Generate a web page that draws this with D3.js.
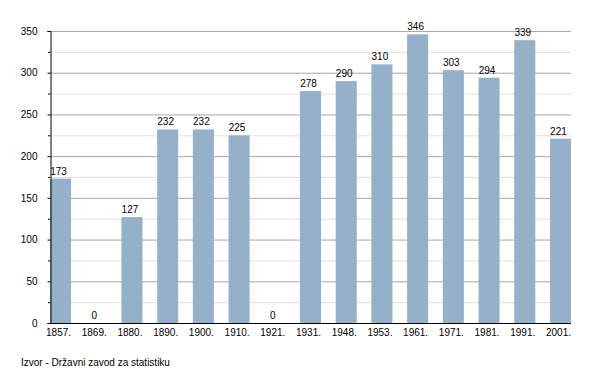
<!DOCTYPE html>
<html>
<head>
<meta charset="utf-8">
<script src="https://cdn.jsdelivr.net/npm/d3@7"></script>
<style>
  body { margin: 0; background: #fff; }
  text { font-family: "Liberation Sans", Arial, sans-serif; font-size: 10px; fill: #000; }
</style>
</head>
<body>
<svg id="chart" width="600" height="373"></svg>
<script>
// census years and population counts
const years = ["1857.", "1869.", "1880.", "1890.", "1900.", "1910.", "1921.", "1931.", "1948.", "1953.", "1961.", "1971.", "1981.", "1991.", "2001."];
const population = [173, 0, 127, 232, 232, 225, 0, 278, 290, 310, 346, 303, 294, 339, 221];
const majorTicks = [0, 50, 100, 150, 200, 250, 300, 350];
const minorTicks = [25, 75, 125, 175, 225, 275, 325];
const source = "Izvor -  Državni zavod za statistiku";

const plotLeft = 50, plotRight = 571, plotTop = 31, plotBottom = 323;
const svg = d3.select("#chart");

let x = d3.scaleBand()
  .domain(years)
  .range([plotLeft, plotRight])
  .paddingInner(0.41)
  .paddingOuter(0);

let y = d3.scaleLinear()
  .domain([0, 350])
  .range([plotBottom, plotTop]);

// minor gridlines
svg.append("g").selectAll("line")
  .data(minorTicks).enter().append("line")
  .attr("x1", plotLeft).attr("x2", plotRight)
  .attr("y1", d => y(d) + 0.5).attr("y2", d => y(d) + 0.5)
  .attr("stroke", "#e0e0e0");

// major gridlines
svg.append("g").selectAll("line")
  .data(majorTicks.filter(d => d > 0)).enter().append("line")
  .attr("x1", plotLeft).attr("x2", plotRight)
  .attr("y1", d => y(d) + 0.5).attr("y2", d => y(d) + 0.5)
  .attr("stroke", "#a8a8a8");

// bars
svg.append("g").selectAll("rect")
  .data(population).enter().append("rect")
  .attr("x", (d, i) => x(years[i]))
  .attr("y", d => y(d))
  .attr("width", x.bandwidth())
  .attr("height", d => plotBottom - y(d))
  .attr("fill", "#97b0ca");

// value labels
svg.append("g").selectAll("text")
  .data(population).enter().append("text")
  .attr("x", (d, i) => x(years[i]) + x.bandwidth() / 2 - 2)
  .attr("y", d => y(d) - 4)
  .attr("text-anchor", "middle")
  .text(d => d);

// y axis
let yAxis = svg.append("g")
  .attr("transform", `translate(${plotLeft + 0.5},0)`)
  .call(d3.axisLeft(y).tickValues(majorTicks).tickSize(3).tickPadding(10));
yAxis.select(".domain").attr("stroke", "#000");
yAxis.selectAll("text").style("font-size", "10px").style("font-family", "Liberation Sans, Arial, sans-serif");

svg.append("g").selectAll("line")
  .data(minorTicks).enter().append("line")
  .attr("x1", plotLeft - 2).attr("x2", plotLeft)
  .attr("y1", d => y(d) + 0.5).attr("y2", d => y(d) + 0.5)
  .attr("stroke", "#000");

// x axis
let xAxis = svg.append("g")
  .attr("transform", `translate(0,${plotBottom + 0.5})`)
  .call(d3.axisBottom(x).tickSize(0).tickPadding(5));
xAxis.select(".domain").attr("stroke", "#000").attr("d", `M${plotLeft},0H${plotRight}`);
xAxis.selectAll("text")
  .attr("dx", -2)
  .style("font-size", "10px").style("font-family", "Liberation Sans, Arial, sans-serif");

svg.append("text")
  .attr("x", 21)
  .attr("y", 366)
  .text(source);
</script>
</body>
</html>
